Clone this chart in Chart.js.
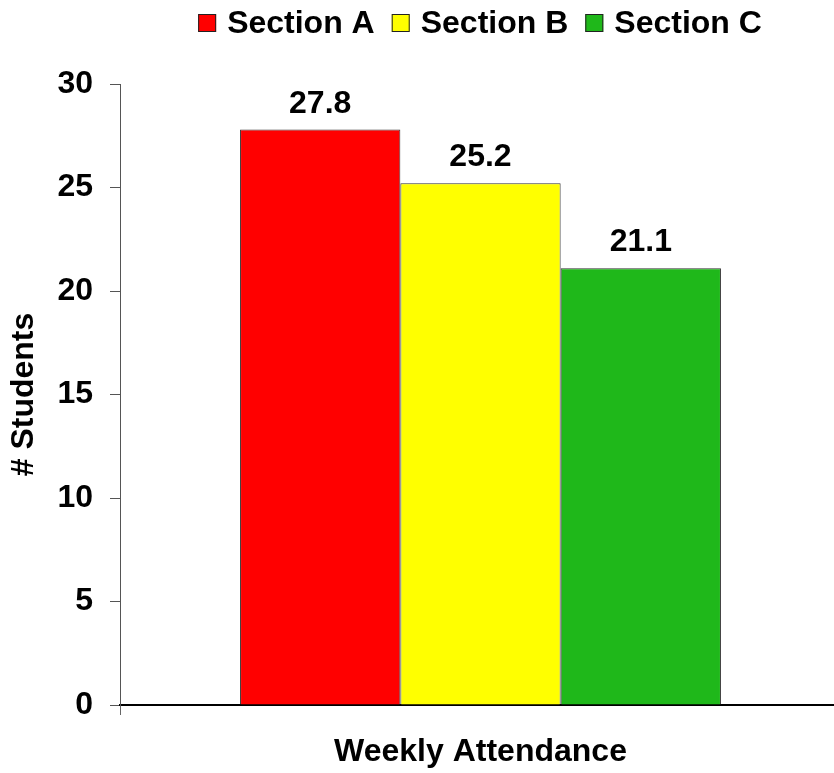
<!DOCTYPE html>
<html lang="en">
<head>
    <meta charset="UTF-8">
    <title>Weekly Attendance</title>
    <script src="https://cdn.jsdelivr.net/npm/chart.js@4.4.1/dist/chart.umd.min.js"></script>
    <style>
        body {
            margin: 0;
            background-color: #ffffff;
            overflow: hidden;
        }
        #wrap {
            width: 834px;
            height: 773px;
            overflow: hidden;
        }
    </style>
</head>
<body>
    <div id="wrap">
        <!-- plot runs a few px past the right edge, like the original -->
        <canvas id="attendanceChart" width="841" height="773"></canvas>
    </div>

    <script>
        // Chart data
        const categories = [''];
        const sectionNames = ['Section A', 'Section B', 'Section C'];
        const sectionValues = [27.8, 25.2, 21.1];
        const sectionColors = ['#ff0000', '#ffff00', '#1fb81a'];
        const yTicks = [0, 5, 10, 15, 20, 25, 30];

        const fontFamily = "'Liberation Sans', Arial, sans-serif";
        const bigFont = { family: fontFamily, size: 32, weight: 'bold' };

        // Value labels above each bar
        const valueLabels = {
            id: 'valueLabels',
            afterDatasetsDraw(chart) {
                const ctx = chart.ctx;
                ctx.save();
                ctx.font = 'bold 32px ' + fontFamily;
                ctx.fillStyle = '#000';
                ctx.textAlign = 'center';
                ctx.textBaseline = 'alphabetic';
                chart.data.datasets.forEach((ds, i) => {
                    const bar = chart.getDatasetMeta(i).data[0];
                    ctx.fillText(ds.data[0].toFixed(1), bar.x, bar.y - 17);
                });
                ctx.restore();
            }
        };

        // Custom legend across the top
        const topLegend = {
            id: 'topLegend',
            afterDraw(chart) {
                const ctx = chart.ctx;
                const box = 18, gapBox = 11, gapItem = 17;
                ctx.save();
                ctx.font = 'bold 32px ' + fontFamily;
                const widths = chart.data.datasets.map(ds => box + gapBox + ctx.measureText(ds.label).width);
                const total = widths.reduce((a, b) => a + b, 0) + gapItem * (widths.length - 1);
                let x = 480 - total / 2;
                const cy = 23;
                ctx.textBaseline = 'middle';
                ctx.textAlign = 'left';
                chart.data.datasets.forEach((ds, i) => {
                    ctx.fillStyle = ds.backgroundColor;
                    ctx.fillRect(x, cy - box / 2, box, box);
                    ctx.strokeStyle = '#222';
                    ctx.lineWidth = 1;
                    ctx.strokeRect(x + 0.5, cy - box / 2 + 0.5, box - 1, box - 1);
                    ctx.fillStyle = '#000';
                    ctx.fillText(ds.label, x + box + gapBox, cy + 1);
                    x += widths[i] + gapItem;
                });
                ctx.restore();
            }
        };

        const datasets = sectionNames.map((name, i) => ({
            label: name,
            data: [sectionValues[i]],
            backgroundColor: sectionColors[i],
            borderColor: '#333',
            borderWidth: 1,
            barPercentage: 1,
            categoryPercentage: 0.667
        }));

        new Chart(document.getElementById('attendanceChart'), {
            type: 'bar',
            data: { labels: categories, datasets: datasets },
            plugins: [valueLabels, topLegend],
            options: {
                responsive: false,
                animation: false,
                layout: { padding: { top: 84, right: 0, left: 0, bottom: 0 } },
                plugins: {
                    legend: { display: false },
                    tooltip: { enabled: false }
                },
                scales: {
                    x: {
                        grid: {
                            display: true,
                            drawOnChartArea: false,
                            drawTicks: true,
                            tickLength: 10,
                            color: '#666'
                        },
                        border: { color: '#000', width: 2 },
                        ticks: { display: false },
                        title: {
                            display: true,
                            text: 'Weekly Attendance',
                            color: '#000',
                            font: bigFont,
                            padding: { top: 0, bottom: 2 }
                        },
                        afterFit: s => { s.height = 68; }
                    },
                    y: {
                        min: 0,
                        max: 30,
                        afterBuildTicks: s => { s.ticks = yTicks.map(v => ({ value: v })); },
                        grid: {
                            display: true,
                            drawOnChartArea: false,
                            drawTicks: true,
                            tickLength: 10,
                            color: '#555'
                        },
                        border: { color: '#555', width: 1 },
                        ticks: {
                            color: '#000',
                            font: bigFont,
                            padding: 17
                        },
                        title: {
                            display: true,
                            text: '# Students',
                            color: '#000',
                            font: bigFont,
                            padding: { top: 5, bottom: 0 }
                        },
                        afterFit: s => { s.width = 120; }
                    }
                }
            }
        });
    </script>
</body>
</html>
